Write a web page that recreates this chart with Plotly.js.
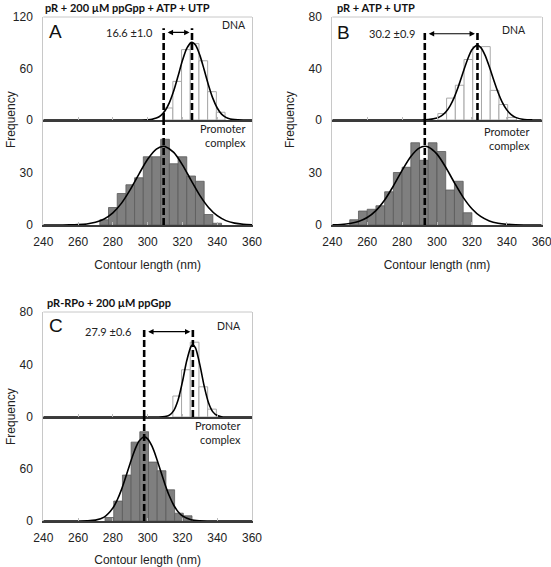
<!DOCTYPE html>
<html><head><meta charset="utf-8">
<script src="https://cdn.plot.ly/plotly-3.0.1.min.js"></script>
<style>html,body{margin:0;padding:0;background:#fff}</style>
</head><body><div id="chart" style="width:551px;height:567px"></div>
<script>
// ---------- data ----------
const titles = ["pR + 200 µM ppGpp + ATP + UTP", "pR + ATP + UTP", "pR-RPo + 200 µM ppGpp"];
const letters = ["A", "B", "C"];
const shiftLabels = ["16.6 ±1.0", "30.2 ±0.9", "27.9 ±0.6"];
const dnaPeak = [325.5, 323.2, 326];
const cxPeak  = [309.2, 293.0, 298.0];

// Panel A
const binA_dna = [312, 317, 322, 327, 332, 337, 342];
const cntA_dna = [14, 45, 82, 89, 69, 33, 9];
const binA_cx  = [275, 280, 285, 290, 295, 300, 305, 310, 315, 320, 325, 330, 335, 340];
const cntA_cx  = [3, 10, 18, 23, 27, 39, 39, 49, 35, 39, 28, 25, 6, 1];
const fitA_dna_x = [240, 295, 300, 302.5, 305, 307.5, 310, 312.5, 315, 317.5, 320, 322.5, 325, 325.5, 327.5, 330, 332.5, 335, 337.5, 340, 342.5, 345, 347.5, 350, 355, 360];
const fitA_dna_y = [0, 0.03, 0.28, 0.82, 2.2, 5.1, 10.7, 20.2, 34.0, 51.2, 69.2, 83.5, 90.3, 90.5, 87.3, 75.6, 58.5, 40.6, 25.2, 14.0, 6.9, 3.1, 1.2, 0.43, 0.04, 0];
const fitA_cx_x = [240, 250, 255, 260, 265, 270, 275, 280, 285, 290, 295, 300, 305, 309, 310, 315, 320, 325, 330, 335, 340, 345, 350, 355, 360];
const fitA_cx_y = [0, 0.02, 0.07, 0.22, 0.61, 1.53, 3.45, 6.95, 12.5, 20.2, 29.1, 37.6, 43.4, 45, 44.9, 41.5, 34.4, 25.5, 16.9, 10.0, 5.3, 2.5, 1.08, 0.41, 0.14];

// Panel B
const binB_dna = [303, 308, 313, 318, 323, 328, 333, 338, 343];
const cntB_dna = [5, 17, 27, 47, 57, 57, 23, 12, 2];
const binB_cx  = [252.5, 257.5, 262.5, 267.5, 272.5, 277.5, 282.5, 287.5, 292.5, 297.5, 302.5, 307.5, 312.5, 317.5];
const cntB_cx  = [3, 8, 9, 11, 19, 30, 33, 47, 37, 47, 42, 20, 25, 7];
const fitB_dna_x = [240, 290, 295, 300, 302.5, 305, 307.5, 310, 312.5, 315, 317.5, 320, 322.5, 323, 325, 327.5, 330, 332.5, 335, 337.5, 340, 342.5, 345, 350, 355, 360];
const fitB_dna_y = [0, 0.03, 0.26, 1.49, 3.2, 6.15, 11.0, 18.0, 27.0, 37.2, 47.0, 54.5, 57.9, 58, 56.4, 50.4, 41.3, 31.0, 21.4, 13.5, 7.85, 4.2, 2.04, 0.37, 0.05, 0];
const fitB_cx_x = [240, 245, 250, 255, 260, 265, 270, 275, 280, 285, 290, 293, 295, 300, 305, 310, 315, 320, 325, 330, 335, 340, 345, 350, 355, 360];
const fitB_cx_y = [0.10, 0.31, 0.82, 1.98, 4.26, 8.25, 14.3, 22.3, 31.2, 39.2, 44.1, 45, 44.6, 40.5, 33.0, 24.1, 15.8, 9.3, 4.9, 2.33, 0.99, 0.38, 0.13, 0.04, 0, 0];

// Panel C
const binC_dna = [317, 322, 327, 332, 337];
const cntC_dna = [16, 36, 57, 23, 6];
const binC_cx  = [278, 283, 288, 293, 298, 303, 308, 313, 318, 323];
const cntC_cx  = [4, 23, 53, 91, 103, 68, 58, 36, 9, 6];
const fitC_dna_x = [240, 305, 310, 312.5, 315, 317.5, 320, 322.5, 325, 326, 327.5, 330, 332.5, 335, 337.5, 340, 342.5, 345, 360];
const fitC_dna_y = [0, 0.01, 0.33, 1.44, 4.89, 13.0, 26.8, 43.0, 53.9, 55, 52.6, 39.9, 23.6, 10.9, 3.9, 1.09, 0.24, 0.04, 0];
const fitC_cx_x = [240, 260, 265, 270, 275, 280, 282.5, 285, 287.5, 290, 292.5, 295, 298, 300, 302.5, 305, 307.5, 310, 312.5, 315, 317.5, 320, 325, 330, 335, 340, 360];
const fitC_cx_y = [0, 0.02, 0.18, 1.04, 4.56, 14.9, 24.2, 36.5, 51.3, 67.0, 81.4, 92.1, 97, 94.8, 86.3, 73.1, 57.6, 42.2, 28.8, 18.2, 10.8, 5.9, 1.43, 0.26, 0.03, 0, 0];

const upperRange = [[0, 120], [0, 80], [0, 80]];
const upperTicks = [[0, 60, 120], [0, 40, 80], [0, 40, 80]];
const lowerRange = [[0, 60], [0, 60], [0, 120]];
const lowerTicks = [[0, 30], [0, 30], [0, 60]];
const xTicks = [240, 260, 280, 300, 320, 340, 360];

// ---------- styling / layout ----------
const W = 551, H = 567;
const px = v => v / W, py = v => 1 - v / H;
const panels = [
  {xd: [43.3, 252], up: [17, 120], lo: [120, 225], dna: [binA_dna, cntA_dna, fitA_dna_x, fitA_dna_y], cx: [binA_cx, cntA_cx, fitA_cx_x, fitA_cx_y],
   dashTop: 107, arrowY: 102, title: [43, 7], letter: [55.5, 31.5], shift: [155, 32], dnaLbl: [248, 25], prom: [248, 135], freq: [11, 120]},
  {xd: [332.3, 541.7], up: [17, 120], lo: [120, 225], dna: [binB_dna, cntB_dna, fitB_dna_x, fitB_dna_y], cx: [binB_cx, cntB_cx, fitB_cx_x, fitB_cx_y],
   dashTop: 69, arrowY: 67, title: [335, 7], letter: [343.5, 32.5], shift: [417, 33.5], dnaLbl: [528, 29.5], prom: [532, 138.5], freq: [290, 120]},
  {xd: [43.3, 252], up: [312, 417], lo: [417, 521], dna: [binC_dna, cntC_dna, fitC_dna_x, fitC_dna_y], cx: [binC_cx, cntC_cx, fitC_cx_x, fitC_cx_y],
   dashTop: 67, arrowY: 65, title: [45, 302], letter: [55.5, 325.5], shift: [133, 331.5], dnaLbl: [243, 326], prom: [243, 432], freq: [11, 417]}
];

const traces = [];
const layout = {
  width: W, height: H, autosize: false,
  margin: {l: 0, r: 0, t: 0, b: 0},
  paper_bgcolor: '#fff', plot_bgcolor: '#fff',
  showlegend: false, bargap: 0,
  font: {family: 'Liberation Sans, Arial, sans-serif', size: 12, color: '#222'},
  shapes: [], annotations: []
};
const lab = 'Lato, Calibri, sans-serif';
const dashLine = {color: '#000', width: 2.6, dash: '7px,3px'};

panels.forEach((p, i) => {
  const nU = 2 * i + 1, nL = 2 * i + 2;
  const xU = nU === 1 ? 'x' : 'x' + nU, yU = nU === 1 ? 'y' : 'y' + nU;
  const xL = 'x' + nL, yL = 'y' + nL;
  const kxU = nU === 1 ? 'xaxis' : 'xaxis' + nU, kyU = nU === 1 ? 'yaxis' : 'yaxis' + nU;
  const dom = [px(p.xd[0]), px(p.xd[1])];
  const baseX = {range: [240, 360], domain: dom, showgrid: false, zeroline: false, showline: true,
    linecolor: '#3a3a3a', linewidth: 1.6, tickvals: xTicks, ticks: 'inside', ticklen: 3, tickcolor: '#bbb', fixedrange: true};
  layout[kxU] = Object.assign({}, baseX, {anchor: yU, showticklabels: false});
  layout['xaxis' + nL] = Object.assign({}, baseX, {anchor: yL, showticklabels: true, ticklabelstandoff: 5,
    ticklabeloverflow: 'allow', tickfont: {size: 12, color: '#222'},
    title: {text: 'Contour length (nm)', font: {size: 12, color: '#222'}, standoff: 12}});
  const baseY = {showgrid: false, zeroline: false, showline: true, mirror: true, linecolor: '#c8c8c8', linewidth: 1,
    ticks: '', ticklabelstandoff: 7, tickfont: {size: 12, color: '#222'}, fixedrange: true};
  layout[kyU] = Object.assign({}, baseY, {anchor: xU, domain: [py(p.up[1]), py(p.up[0])], range: upperRange[i], tickvals: upperTicks[i]});
  layout['yaxis' + nL] = Object.assign({}, baseY, {anchor: xL, domain: [py(p.lo[1]), py(p.lo[0])], range: lowerRange[i], tickvals: lowerTicks[i]});

  // bars
  traces.push({type: 'bar', x: p.dna[0], y: p.dna[1], width: 5, xaxis: xU, yaxis: yU,
    marker: {color: '#fff', line: {color: '#a8a8a8', width: 1}}, hoverinfo: 'skip'});
  traces.push({type: 'bar', x: p.cx[0], y: p.cx[1], width: 5, xaxis: xL, yaxis: yL,
    marker: {color: '#7f7f7f', line: {color: '#5a5a5a', width: 0.8}}, hoverinfo: 'skip'});
  // fits
  traces.push({type: 'scatter', mode: 'lines', x: p.dna[2], y: p.dna[3], xaxis: xU, yaxis: yU,
    line: {color: '#000', width: 1.6, shape: 'spline', smoothing: 0.8}, hoverinfo: 'skip', cliponaxis: true});
  traces.push({type: 'scatter', mode: 'lines', x: p.cx[2], y: p.cx[3], xaxis: xL, yaxis: yL,
    line: {color: '#000', width: 1.6, shape: 'spline', smoothing: 0.8}, hoverinfo: 'skip', cliponaxis: true});

  // frame top
  layout.shapes.push({type: 'line', xref: xU + ' domain', yref: yU + ' domain', x0: 0, x1: 1, y0: 1, y1: 1,
    line: {color: '#c8c8c8', width: 1}, layer: 'above'});
  // dashed lines
  layout.shapes.push({type: 'line', xref: xU, yref: yU, x0: dnaPeak[i], x1: dnaPeak[i], y0: 0, y1: p.dashTop, line: dashLine, layer: 'above'});
  layout.shapes.push({type: 'line', xref: xU, yref: yU, x0: cxPeak[i], x1: cxPeak[i], y0: 0, y1: p.dashTop, line: dashLine, layer: 'above'});
  layout.shapes.push({type: 'line', xref: xL, yref: yL, x0: cxPeak[i], x1: cxPeak[i], y0: 0, y1: lowerRange[i][1], line: dashLine, layer: 'above'});

  // double arrow
  layout.annotations.push({xref: xU, yref: yU, axref: xU, ayref: yU, x: dnaPeak[i], y: p.arrowY, ax: cxPeak[i], ay: p.arrowY,
    text: '', showarrow: true, arrowhead: 2, startarrowhead: 2, arrowside: 'end+start', arrowsize: 0.9, startarrowsize: 0.9,
    arrowwidth: 1.2, arrowcolor: '#000', standoff: 2.5, startstandoff: 2.5});
  // texts
  layout.annotations.push({xref: 'paper', yref: 'paper', x: px(p.title[0]), y: py(p.title[1]), xanchor: 'left', yanchor: 'middle',
    text: '<b>' + titles[i] + '</b>', showarrow: false, font: {family: lab, size: 11, color: '#111'}});
  layout.annotations.push({xref: 'paper', yref: 'paper', x: px(p.letter[0]), y: py(p.letter[1]), xanchor: 'center', yanchor: 'middle',
    text: letters[i], showarrow: false, font: {size: 19, color: '#111'}});
  layout.annotations.push({xref: 'paper', yref: 'paper', x: px(p.shift[0]), y: py(p.shift[1]), xanchor: 'right', yanchor: 'middle',
    text: shiftLabels[i], showarrow: false, font: {family: lab, size: 11, color: '#222'}});
  layout.annotations.push({xref: 'paper', yref: 'paper', x: px(p.dnaLbl[0]), y: py(p.dnaLbl[1]), xanchor: 'right', yanchor: 'middle',
    text: 'DNA', showarrow: false, font: {family: lab, size: 10.5, color: '#222'}});
  layout.annotations.push({xref: 'paper', yref: 'paper', x: px(p.prom[0]), y: py(p.prom[1]), xanchor: 'right', yanchor: 'middle', align: 'right',
    text: 'Promoter<br>complex', showarrow: false, font: {family: lab, size: 11, color: '#222'}});
  layout.annotations.push({xref: 'paper', yref: 'paper', x: px(p.freq[0]), y: py(p.freq[1]), xanchor: 'center', yanchor: 'middle',
    text: 'Frequency', textangle: -90, showarrow: false, font: {size: 12, color: '#222'}});
});

Plotly.newPlot('chart', traces, layout, {displayModeBar: false, staticPlot: true});
</script></body></html>
